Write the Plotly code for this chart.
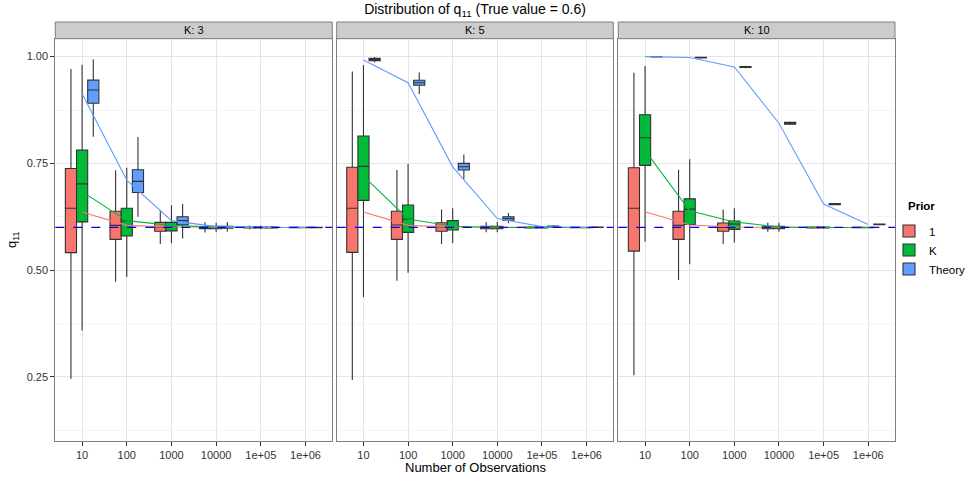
import plotly.graph_objects as go

# ---------------- data ----------------
categories = ["10", "100", "1000", "10000", "1e+05", "1e+06"]
panels = ["K: 3", "K: 5", "K: 10"]
priors = ["1", "K", "Theory"]
prior_colors = ["#F8766D", "#00BA38", "#619CFF"]
true_value = 0.6

# K: 3  -- box statistics (lower whisker, q1, median, q3, upper whisker)
k3_p1_lo = [0.246, 0.473, 0.561, 0.588, 0.596, 0.599]
k3_p1_q1 = [0.541, 0.572, 0.591, 0.597, 0.599, 0.5995]
k3_p1_md = [0.645, 0.605, 0.601, 0.600, 0.600, 0.600]
k3_p1_q3 = [0.738, 0.638, 0.612, 0.602, 0.601, 0.6005]
k3_p1_hi = [0.971, 0.734, 0.641, 0.612, 0.604, 0.601]

k3_pK_lo = [0.359, 0.484, 0.563, 0.589, 0.596, 0.599]
k3_pK_q1 = [0.613, 0.580, 0.592, 0.597, 0.599, 0.5995]
k3_pK_md = [0.702, 0.615, 0.601, 0.600, 0.600, 0.600]
k3_pK_q3 = [0.781, 0.645, 0.612, 0.603, 0.601, 0.6005]
k3_pK_hi = [0.981, 0.740, 0.652, 0.611, 0.604, 0.601]

k3_pT_lo = [0.8125, 0.625, 0.574, 0.590, 0.597, 0.599]
k3_pT_q1 = [0.891, 0.682, 0.606, 0.598, 0.599, 0.5995]
k3_pT_md = [0.922, 0.708, 0.616, 0.601, 0.600, 0.600]
k3_pT_q3 = [0.945, 0.735, 0.625, 0.603, 0.601, 0.6005]
k3_pT_hi = [0.994, 0.812, 0.655, 0.612, 0.603, 0.601]

# K: 5
k5_p1_lo = [0.243, 0.475, 0.561, 0.589, 0.597, 0.599]
k5_p1_q1 = [0.5416, 0.572, 0.591, 0.597, 0.599, 0.5995]
k5_p1_md = [0.645, 0.6056, 0.601, 0.600, 0.600, 0.600]
k5_p1_q3 = [0.741, 0.638, 0.611, 0.603, 0.601, 0.6005]
k5_p1_hi = [0.965, 0.7345, 0.642, 0.613, 0.603, 0.601]

k5_pK_lo = [0.437, 0.494, 0.563, 0.589, 0.597, 0.599]
k5_pK_q1 = [0.6635, 0.5885, 0.594, 0.597, 0.599, 0.5995]
k5_pK_md = [0.743, 0.6196, 0.602, 0.600, 0.600, 0.600]
k5_pK_q3 = [0.814, 0.6525, 0.616, 0.603, 0.601, 0.6005]
k5_pK_hi = [0.9805, 0.7485, 0.645, 0.613, 0.603, 0.601]

k5_pT_lo = [0.986, 0.9126, 0.713, 0.610, 0.600, 0.5995]
k5_pT_q1 = [0.9906, 0.933, 0.7345, 0.617, 0.6015, 0.600]
k5_pT_md = [0.9935, 0.939, 0.742, 0.621, 0.6025, 0.6005]
k5_pT_q3 = [0.996, 0.9447, 0.750, 0.625, 0.6035, 0.601]
k5_pT_hi = [0.999, 0.963, 0.771, 0.634, 0.605, 0.6015]

# K: 10
k10_p1_lo = [0.254, 0.4767, 0.561, 0.590, 0.597, 0.599]
k10_p1_q1 = [0.5446, 0.572, 0.591, 0.597, 0.599, 0.5995]
k10_p1_md = [0.645, 0.605, 0.600, 0.600, 0.600, 0.600]
k10_p1_q3 = [0.740, 0.638, 0.6103, 0.603, 0.601, 0.6005]
k10_p1_hi = [0.9625, 0.735, 0.642, 0.611, 0.603, 0.601]

k10_pK_lo = [0.5665, 0.514, 0.565, 0.590, 0.597, 0.599]
k10_pK_q1 = [0.7455, 0.607, 0.5955, 0.597, 0.599, 0.5995]
k10_pK_md = [0.810, 0.643, 0.608, 0.600, 0.600, 0.600]
k10_pK_q3 = [0.864, 0.667, 0.615, 0.603, 0.601, 0.6005]
k10_pK_hi = [0.978, 0.7595, 0.645, 0.611, 0.603, 0.601]

k10_pT_lo = [0.998, 0.996, 0.973, 0.840, 0.652, 0.6055]
k10_pT_q1 = [0.9990, 0.997, 0.9748, 0.842, 0.6535, 0.6065]
k10_pT_md = [0.9995, 0.9977, 0.976, 0.844, 0.655, 0.6072]
k10_pT_q3 = [1.000, 0.9985, 0.977, 0.846, 0.6562, 0.6078]
k10_pT_hi = [1.000, 0.9993, 0.9785, 0.848, 0.6575, 0.6088]

# expected-value lines (one per prior and panel)
k3_line_p1 = [0.636, 0.605, 0.601, 0.600, 0.600, 0.600]
k3_line_pK = [0.684, 0.616, 0.605, 0.601, 0.600, 0.600]
k3_line_pT = [0.913, 0.711, 0.616, 0.602, 0.600, 0.600]

k5_line_p1 = [0.636, 0.605, 0.601, 0.600, 0.600, 0.600]
k5_line_pK = [0.720, 0.620, 0.603, 0.600, 0.600, 0.600]
k5_line_pT = [0.992, 0.939, 0.742, 0.621, 0.602, 0.600]

k10_line_p1 = [0.637, 0.6056, 0.601, 0.600, 0.600, 0.600]
k10_line_pK = [0.780, 0.639, 0.613, 0.601, 0.600, 0.600]
k10_line_pT = [1.000, 0.998, 0.976, 0.844, 0.655, 0.607]

y_ticks = [0.25, 0.50, 0.75, 1.00]
y_tick_labels = ["0.25", "0.50", "0.75", "1.00"]

# ---------------- assemble ----------------
box_stats = [
    [(k3_p1_lo, k3_p1_q1, k3_p1_md, k3_p1_q3, k3_p1_hi),
     (k3_pK_lo, k3_pK_q1, k3_pK_md, k3_pK_q3, k3_pK_hi),
     (k3_pT_lo, k3_pT_q1, k3_pT_md, k3_pT_q3, k3_pT_hi)],
    [(k5_p1_lo, k5_p1_q1, k5_p1_md, k5_p1_q3, k5_p1_hi),
     (k5_pK_lo, k5_pK_q1, k5_pK_md, k5_pK_q3, k5_pK_hi),
     (k5_pT_lo, k5_pT_q1, k5_pT_md, k5_pT_q3, k5_pT_hi)],
    [(k10_p1_lo, k10_p1_q1, k10_p1_md, k10_p1_q3, k10_p1_hi),
     (k10_pK_lo, k10_pK_q1, k10_pK_md, k10_pK_q3, k10_pK_hi),
     (k10_pT_lo, k10_pT_q1, k10_pT_md, k10_pT_q3, k10_pT_hi)],
]
line_vals = [
    [k3_line_p1, k3_line_pK, k3_line_pT],
    [k5_line_p1, k5_line_pK, k5_line_pT],
    [k10_line_p1, k10_line_pK, k10_line_pT],
]

FONT = "Liberation Sans, Arial, Helvetica, sans-serif"
W, H = 974, 483
ML, MR, MT, MB = 55, 79, 22, 42
plot_w = W - ML - MR
plot_h = H - MT - MB

def px_to_xpaper(px):
    return (px - ML) / plot_w

def py_to_ypaper(py):
    return (H - MB - py) / plot_h

x_domains = [
    [px_to_xpaper(55.3), px_to_xpaper(332.3)],
    [px_to_xpaper(336.7), px_to_xpaper(613.3)],
    [px_to_xpaper(618.3), px_to_xpaper(895)],
]
x_domains[0][0] = max(0.0, x_domains[0][0])
x_domains[2][1] = min(1.0, x_domains[2][1])
strip_h = 16.7
y_top = 1 - strip_h / plot_h

fig = go.Figure()

for pi in range(3):
    xa = "x" if pi == 0 else f"x{pi+1}"
    ya = "y" if pi == 0 else f"y{pi+1}"
    for gi in range(3):
        lo, q1, md, q3, hi = box_stats[pi][gi]
        fig.add_trace(go.Box(
            x=categories, q1=q1, median=md, q3=q3,
            lowerfence=lo, upperfence=hi,
            name=priors[gi], legendgroup=priors[gi],
            showlegend=(pi == 0),
            fillcolor=prior_colors[gi],
            line=dict(color="#333333", width=1.1),
            whiskerwidth=0, boxpoints=False,
            offsetgroup=priors[gi],
            xaxis=xa, yaxis=ya, hoverinfo="skip",
        ))
for pi in range(3):
    xa = "x" if pi == 0 else f"x{pi+1}"
    ya = "y" if pi == 0 else f"y{pi+1}"
    for gi in range(3):
        fig.add_trace(go.Scatter(
            x=categories, y=line_vals[pi][gi], mode="lines",
            line=dict(color=prior_colors[gi], width=1.1),
            showlegend=False, xaxis=xa, yaxis=ya, hoverinfo="skip",
        ))

axis_common = dict(
    showline=True, mirror=True, linecolor="#7F7F7F", linewidth=1,
    gridcolor="#E5E5E5", gridwidth=1, zeroline=False,
    ticks="outside", ticklen=4, tickcolor="#333333", tickwidth=1,
    tickfont=dict(family=FONT, size=11, color="#333333"),
    automargin=False,
)

layout = dict(
    width=W, height=H,
    margin=dict(l=ML, r=MR, t=MT, b=MB, pad=0, autoexpand=False),
    paper_bgcolor="white", plot_bgcolor="white",
    boxmode="group", boxgap=0.25, boxgroupgap=0,
    font=dict(family=FONT, size=11, color="black"),
    title=dict(
        text="Distribution of q<sub>11</sub> (True value = 0.6)",
        x=475 / W, xanchor="center", xref="container",
        y=1 - 4 / H, yanchor="top", yref="container",
        font=dict(family=FONT, size=14, color="black"),
    ),
    legend=dict(
        x=px_to_xpaper(889), xanchor="left",
        y=py_to_ypaper(250), yanchor="middle",
        font=dict(family=FONT, size=11.5, color="black"),
        bgcolor="rgba(0,0,0,0)", tracegroupgap=0,
    ),
    shapes=[], annotations=[],
)

for pi in range(3):
    xkey = "xaxis" if pi == 0 else f"xaxis{pi+1}"
    ykey = "yaxis" if pi == 0 else f"yaxis{pi+1}"
    yname = "y" if pi == 0 else f"y{pi+1}"
    xname = "x" if pi == 0 else f"x{pi+1}"
    layout[xkey] = dict(
        axis_common, domain=x_domains[pi], anchor=yname,
        type="category", categoryorder="array", categoryarray=categories,
        range=[-0.6, len(categories) - 0.4],
    )
    ydict = dict(
        axis_common, domain=[0, y_top], anchor=xname,
        range=[0.100, 1.042],
        tickvals=y_ticks, ticktext=y_tick_labels,
        minor=dict(tickvals=[0.125, 0.375, 0.625, 0.875], showgrid=True,
                   gridcolor="#F5F5F5", gridwidth=1, ticks=""),
    )
    if pi > 0:
        ydict.update(matches="y", showticklabels=False, ticks="")
    layout[ykey] = ydict

    # strip
    layout["shapes"].append(dict(
        type="rect", xref="paper", yref="paper",
        x0=x_domains[pi][0], x1=x_domains[pi][1], y0=y_top, y1=1,
        fillcolor="#CCCCCC", line=dict(color="#7F7F7F", width=1), layer="above",
    ))
    layout["annotations"].append(dict(
        text=panels[pi], xref="paper", yref="paper",
        x=(x_domains[pi][0] + x_domains[pi][1]) / 2, y=(y_top + 1) / 2,
        xanchor="center", yanchor="middle", showarrow=False,
        font=dict(family=FONT, size=11, color="black"),
    ))
    # true value reference line
    layout["shapes"].append(dict(
        type="line", xref=f"{xname} domain", yref=yname,
        x0=0, x1=1, y0=true_value, y1=true_value,
        line=dict(color="#0000EE", width=1.2, dash="dash"), layer="above",
    ))

# legend title
layout["annotations"].append(dict(
    text="<b>Prior</b>", xref="paper", yref="paper",
    x=px_to_xpaper(906), y=py_to_ypaper(206),
    xanchor="left", yanchor="middle", showarrow=False,
    font=dict(family=FONT, size=11.5, color="black"),
))
layout["annotations"].append(dict(
    text="Number of Observations", xref="paper", yref="paper",
    x=px_to_xpaper(475), y=py_to_ypaper(467),
    xanchor="center", yanchor="middle", showarrow=False,
    font=dict(family=FONT, size=13, color="black"),
))
layout["annotations"].append(dict(
    text="q<sub>11</sub>", xref="paper", yref="paper",
    x=px_to_xpaper(13), y=py_to_ypaper(240),
    xanchor="center", yanchor="middle", showarrow=False, textangle=-90,
    font=dict(family=FONT, size=13, color="black"),
))

fig.update_layout(**layout)
fig.write_html(
    "out.html",
    config={"displayModeBar": False},
    post_script="document.body.style.margin='0';document.body.style.overflow='hidden';",
)
